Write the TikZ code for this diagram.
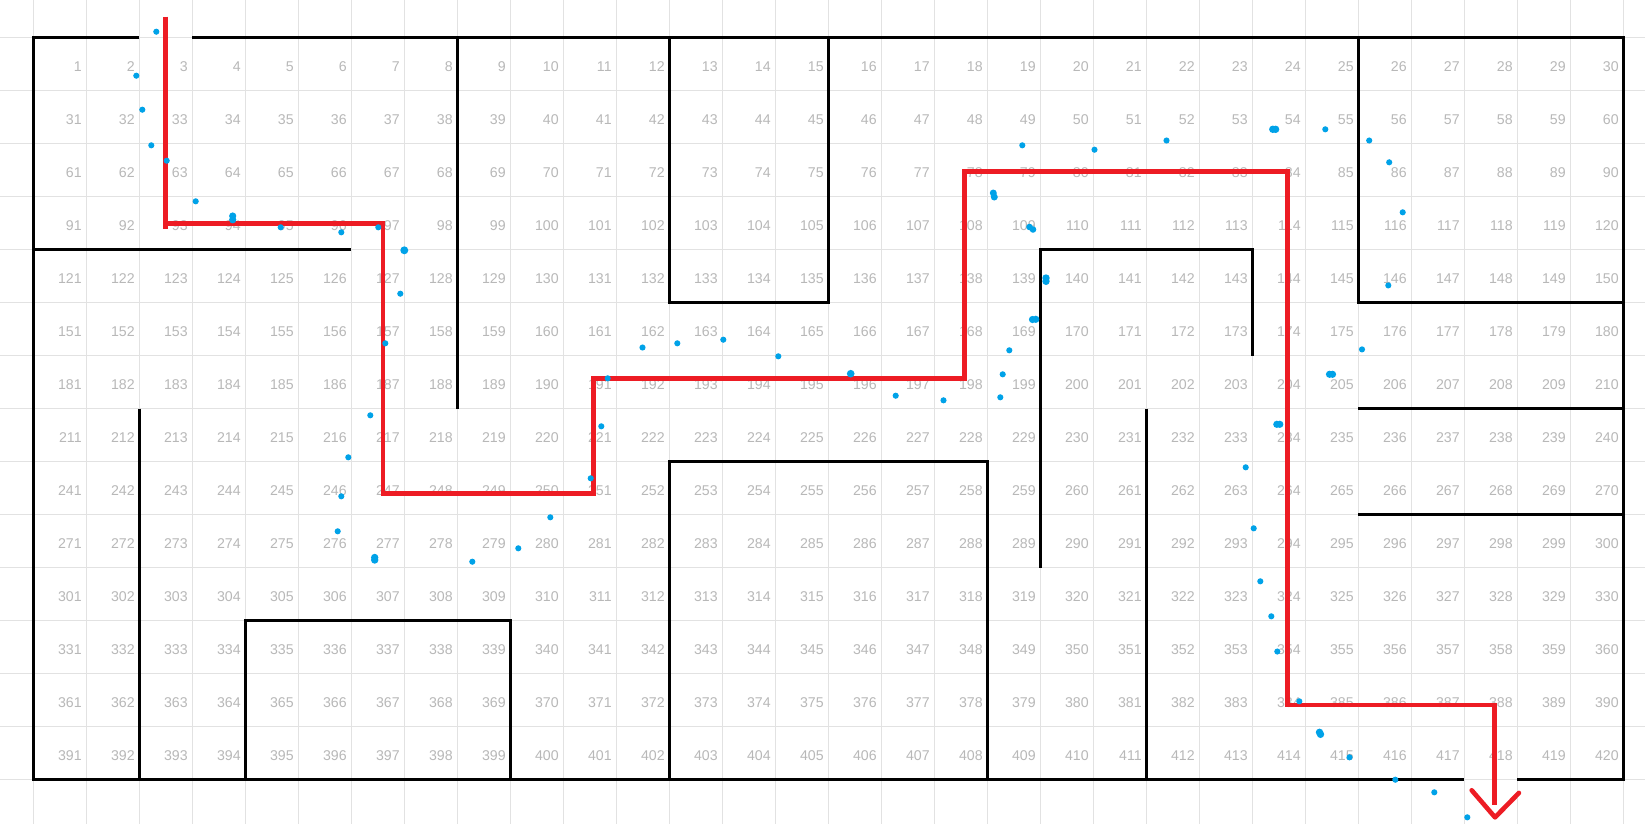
\documentclass[tikz,border=0pt]{standalone}
\usepackage{fontspec}
\setmainfont{Liberation Sans}
\definecolor{gridc}{RGB}{226,226,226}
\definecolor{numc}{RGB}{184,184,184}
\definecolor{pathred}{RGB}{237,28,36}
\definecolor{dotblue}{RGB}{0,162,232}
\begin{document}
\begin{tikzpicture}[x=1cm,y=-1cm,
  gridline/.style={draw=gridc,line width=0.55pt},
  num/.style={anchor=east,inner sep=0pt,text=numc,font=\fontsize{7.6}{8}\selectfont},
  wall/.style={draw=black,line width=1.35pt},
  thickwall/.style={draw=black,line width=1.75pt},
  route/.style={draw=pathred,line width=2.5pt},
  arrowv/.style={draw=pathred,line width=2.5pt,line cap=round,line join=round},
  dot/.style={fill=dotblue,draw=none}]
\useasboundingbox (-0.6283,-0.7113) rectangle (30.4094,14.8358);
\fill[white] (-0.6283,-0.7113) rectangle (30.4094,14.8358);
% light grid
\foreach \i in {0,...,30} \draw[gridline] (\i,-0.7113) -- (\i,14.8358);
\foreach \j in {0,...,14} \draw[gridline] (-0.6283,\j) -- (30.4094,\j);
% cell numbers
\foreach \n in {1,...,420}{
  \pgfmathtruncatemacro{\r}{(\n-1)/30}
  \pgfmathtruncatemacro{\c}{\n-1-30*\r}
  \node[num] (c\n) at (\c+0.92,\r+0.545) {\n};
}
% outer walls
\draw[wall] (2,0) -- (0,0) -- (0,14) -- (27,14);
\draw[wall] (3,0) -- (30,0) -- (30,14) -- (28,14);
% inner walls
\draw[wall] (0,4) -- (6,4);
\draw[wall] (8,0) -- (8,7);
\draw[thickwall] (12,0) rectangle (15,5);
\draw[wall] (25,0) -- (25,5) -- (30,5);
\draw[wall] (2,7) -- (2,14);
\draw[thickwall] (4,14) -- (4,11) -- (9,11) -- (9,14);
\draw[wall] (12,14) -- (12,8) -- (18,8) -- (18,14);
\draw[wall] (19,10) -- (19,4) -- (23,4) -- (23,6);
\draw[wall] (21,7) -- (21,14);
\draw[wall] (25,7) -- (30,7);
\draw[wall] (25,9) -- (30,9);
% red route
\draw[route] (2.5,-0.4) -- (2.5,3.6);
\draw[route] (2.45,3.5) -- (6.6,3.5) -- (6.6,8.6) -- (10.57,8.6) -- (10.57,6.43)
  -- (17.57,6.43) -- (17.57,2.52) -- (23.66,2.52) -- (23.66,12.59) -- (27.57,12.59) -- (27.57,14.48);
\draw[arrowv] (27.14,14.2) -- (27.58,14.71) -- (28.03,14.25);
% blue dots (pixel positions of the reference)
\foreach \X/\Y/\R in {
 156.3/31.7/0.058, 136.3/75.7/0.058, 142.3/109.7/0.058, 151.3/145.3/0.058,
 166.7/160.7/0.058, 195.7/201.3/0.058, 232.7/216.0/0.068, 232.7/219.8/0.068,
 280.7/227.3/0.058, 341.3/232.3/0.058, 378.3/227.3/0.058, 404.3/250.3/0.075,
 400.3/293.7/0.058, 385.3/343.3/0.058, 370.3/415.3/0.058, 348.3/457.3/0.058,
 341.3/496.3/0.058, 337.7/531.3/0.058, 374.7/557.5/0.07, 374.7/560.0/0.07,
 472.3/561.7/0.058, 518.3/548.3/0.058, 550.3/517.3/0.058, 590.7/478.3/0.058,
 601.3/426.3/0.058, 607.7/378.3/0.058, 642.5/347.5/0.058, 677.3/343.3/0.058,
 723.3/339.7/0.058, 778.3/356.3/0.058, 850.7/373.7/0.072, 895.7/395.7/0.058,
 943.5/400.3/0.058, 1000.3/397.3/0.058, 1002.7/374.3/0.058, 1009.3/350.3/0.058,
 1032.5/319.5/0.068, 1035.8/319.3/0.068, 1046.0/278.0/0.07, 1046.0/281.3/0.07,
 1029.5/227.0/0.062, 1033.0/229.5/0.062, 993.3/193.0/0.066, 994.3/197.0/0.066,
 1022.3/145.3/0.058, 1094.5/149.7/0.058, 1166.5/140.5/0.058, 1272.8/129.3/0.07,
 1275.6/129.3/0.07, 1325.3/129.3/0.058, 1369.2/140.5/0.058, 1389.2/162.3/0.058,
 1402.7/212.3/0.058, 1388.3/285.4/0.058, 1362.0/349.4/0.058, 1329.5/374.3/0.068,
 1332.5/374.3/0.068, 1276.8/424.3/0.068, 1279.8/424.3/0.068, 1245.7/467.3/0.058,
 1253.7/528.3/0.058, 1260.3/581.3/0.058, 1271.3/616.3/0.058, 1277.3/651.5/0.058,
 1299.3/701.3/0.058, 1319.5/732.3/0.07, 1320.5/734.3/0.07, 1349.5/757.3/0.058,
 1395.3/779.7/0.058, 1434.3/792.3/0.058, 1467.3/817.3/0.058}
 \fill[dot] ({(\X-33.3)/53},{(\Y-37.7)/53}) circle[radius=\R cm];
\end{tikzpicture}
\end{document}
